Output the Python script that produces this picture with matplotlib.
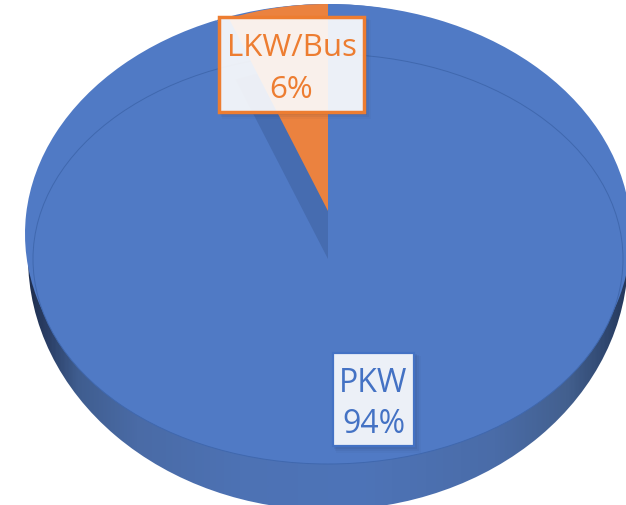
import matplotlib
matplotlib.use("Agg")
import matplotlib.pyplot as plt
import numpy as np
from matplotlib.patches import Ellipse, Rectangle
from matplotlib.transforms import Affine2D
from matplotlib.colors import LinearSegmentedColormap

categories = ["LKW/Bus", "PKW"]
values = [6, 94]

BLUE = "#507AC5"
ORANGE = "#EB823F"
CUT = "#466CB0"
TXT_BLUE = "#4472C4"
TXT_ORANGE = "#ED7D31"

plt.rcParams["font.family"] = ["Open Sans", "DejaVu Sans"]
fig = plt.figure(figsize=(6.26, 5.06), dpi=100)
ax = fig.add_axes([0, 0, 1, 1])


def draw_pie(cx, cy, rx, ry, colors, z):
    wedges, _ = ax.pie(values, colors=colors, startangle=90, counterclock=True,
                       wedgeprops={"linewidth": 0})
    for w in wedges:
        w.set_transform(Affine2D().scale(rx, -ry).translate(cx, cy) + ax.transData)
        w.set_zorder(z)
    return wedges


# side wall
grad_cmap = LinearSegmentedColormap.from_list("wall", [
    (0.00, "#1f2f4f"), (0.03, "#2b3f66"), (0.08, "#3f5d8f"), (0.18, "#4a6ba6"),
    (0.35, "#4d72b4"), (0.55, "#4e74b8"), (0.78, "#4a6ca8"), (0.90, "#43608f"),
    (0.96, "#324a73"), (1.00, "#25385c")])
im = ax.imshow(np.linspace(0, 1, 400).reshape(1, -1), extent=(28, 628, 511, 5),
               cmap=grad_cmap, aspect="auto", zorder=1, interpolation="bilinear")
wall_clip = Ellipse((328, 258), 600, 506, transform=ax.transData)
im.set_clip_path(wall_clip)

# top face
draw_pie(328, 235, 303, 230, [BLUE, BLUE], 2)
ax.add_patch(Ellipse((328, 260), 590, 410, facecolor=BLUE, edgecolor="none", zorder=2))
ax.add_patch(Ellipse((328, 260), 590, 410, facecolor="none", edgecolor="#4068AE",
                     linewidth=0.7, zorder=3))
# cut wall and slice
draw_pie(328, 260, 251, 193, [CUT, "none"], 4)
draw_pie(328, 212, 269, 207, [ORANGE, "none"], 5)


def label(cat, val, x0, y0, x1, y1, ec, tc, lw, fs):
    for i, a in zip((7, 5, 3), (0.04, 0.06, 0.08)):
        ax.add_patch(Rectangle((x0 + i * 0.4, y0 + i * 0.4), x1 - x0 + i * 0.6, y1 - y0 + i * 0.6,
                               facecolor="#1f3050", edgecolor="none", alpha=a, zorder=6))
    ax.add_patch(Rectangle((x0, y0), x1 - x0, y1 - y0, facecolor="white", alpha=0.9,
                           edgecolor="none", zorder=7))
    ax.add_patch(Rectangle((x0, y0), x1 - x0, y1 - y0, facecolor="none", edgecolor=ec,
                           linewidth=lw, zorder=8))
    xc = (x0 + x1) / 2
    h = y1 - y0
    ax.text(xc, y0 + h * 0.32, cat, color=tc, fontsize=fs, ha="center", va="center", zorder=9)
    ax.text(xc, y0 + h * 0.76, f"{val}%", color=tc, fontsize=fs, ha="center", va="center", zorder=9)


label(categories[0], values[0], 219, 18, 364, 113, TXT_ORANGE, TXT_ORANGE, 2.5, 22.5)
label(categories[1], values[1], 333, 354, 414, 447, TXT_BLUE, TXT_BLUE, 1.6, 23)

ax.set_aspect("auto")
ax.set_xlim(0, 626)
ax.set_ylim(506, 0)
ax.set_axis_off()
fig.savefig("out.png", dpi=100, facecolor="white")
